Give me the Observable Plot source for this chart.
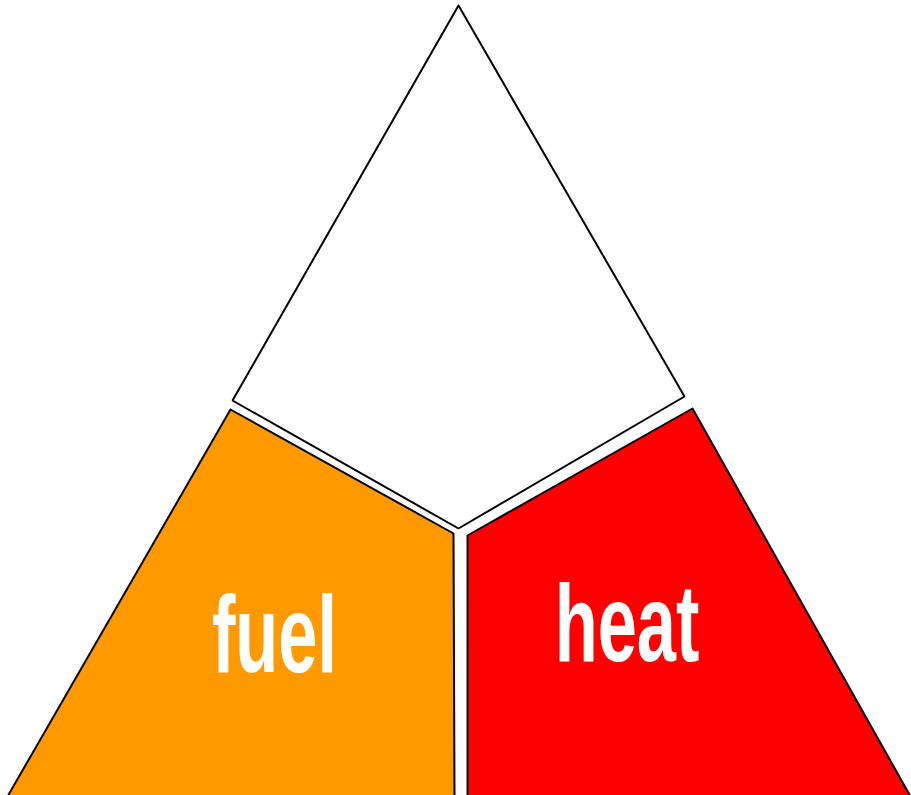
<!DOCTYPE html>
<html>
<head>
<meta charset="utf-8">
<script src="https://cdn.jsdelivr.net/npm/d3@7"></script>
<script src="https://cdn.jsdelivr.net/npm/@observablehq/plot@0.6"></script>
<style>
  html, body { margin: 0; padding: 0; background: #fff; }
  #chart { width: 911px; height: 795px; }
</style>
</head>
<body>
<div id="chart"></div>
<script>
// Shape names, fills and vertex lists (in the triangle's own coordinate space, y downward)
const shapes = ["oxygen", "fuel", "heat"];
const fills = ["#ffffff", "#ff9900", "#ff0000"];
const oxygenX = [458, 684, 458, 232, 458];
const oxygenY = [5, 396, 528, 400, 5];
const fuelX = [230, 453, 454, 7, 230];
const fuelY = [409, 533, 796, 796, 409];
const heatX = [692, 910, 467, 467, 692];
const heatY = [408, 796, 796, 535, 408];
// Labels
const labelText = ["fuel", "heat"];
const labelX = [274, 626.5];
const labelY = [636.5, 625.5];

const xs = [oxygenX, fuelX, heatX];
const ys = [oxygenY, fuelY, heatY];
const vertices = shapes.flatMap((s, i) =>
  xs[i].map((x, j) => ({shape: s, x, y: ys[i][j]}))
);
const labels = labelText.map((t, i) => ({t, x: labelX[i], y: labelY[i]}));

const marks = shapes.map((s, i) =>
  Plot.line(vertices.filter(d => d.shape === s), {
    x: "x", y: "y",
    fill: fills[i], stroke: "#000", strokeWidth: 2,
    strokeLinejoin: "miter", curve: "linear"
  })
);
marks.push(Plot.text(labels, {
  x: "x", y: "y", text: "t",
  fill: "#fff", fontSize: 110, fontWeight: "bold",
  fontFamily: "Liberation Sans, Arial, sans-serif",
  textAnchor: "middle", lineAnchor: "middle"
}));

const chart = Plot.plot({
  width: 911, height: 795,
  margin: 0,
  x: {domain: [0, 911], axis: null},
  y: {domain: [0, 795], reverse: true, axis: null},
  marks
});
d3.select(chart).selectAll("g[aria-label='text'] text").each(function() {
  const t = this.getAttribute("transform") || "";
  this.setAttribute("transform", t + " scale(0.64,1)");
});
document.getElementById("chart").appendChild(chart);
</script>
</body>
</html>
